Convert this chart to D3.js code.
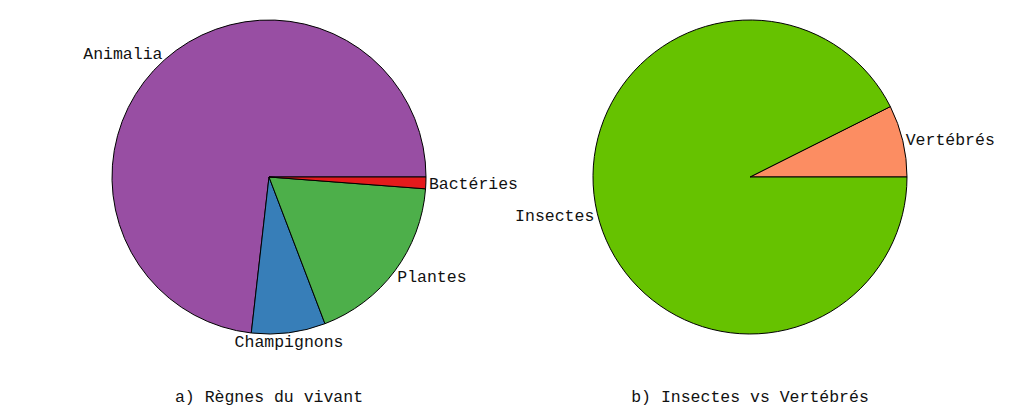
<!DOCTYPE html>
<html>
<head>
<meta charset="utf-8">
<script src="https://cdn.jsdelivr.net/npm/d3@7"></script>
<style>
  body { margin: 0; background: #fff; }
  text { font-family: "Liberation Mono", "DejaVu Sans Mono", monospace; font-size: 16.5px; fill: #111; }
</style>
</head>
<body>
<svg id="chart"></svg>
<script>
// data (shares, in %)
const regnes = ["Animalia", "Champignons", "Plantes", "Bactéries"];
const regnes_valeurs = [73.2, 7.6, 18.0, 1.2];
const regnes_couleurs = ["#984ea3", "#377eb8", "#4daf4a", "#e41a1c"];

const groupes = ["Vertébrés", "Insectes"];
const groupes_valeurs = [7.4, 92.6];
const groupes_couleurs = ["#fc8d62", "#66c200"];

const titres = ["a) Règnes du vivant", "b) Insectes vs Vertébrés"];

const w = 1024, h = 420;
const svg = d3.select('#chart').attr('width', w).attr('height', h);

const R = 157;

// pies go counterclockwise starting at 3 o'clock
const pie = d3.pie().sort(null).value(d => d.v)
  .startAngle(Math.PI / 2).endAngle(Math.PI / 2 - 2 * Math.PI);
const arc = d3.arc().innerRadius(0).outerRadius(R);

const draw_pie = function(cx, cy, names, vals, cols, titre) {
  const data = names.map((n, i) => ({ n: n, v: vals[i], c: cols[i] }));
  const g = svg.append('g').attr('transform', `translate(${cx},${cy})`);

  g.selectAll('path')
    .data(pie(data))
    .join('path')
      .attr('d', arc)
      .attr('fill', d => d.data.c)
      .attr('stroke', '#000')
      .attr('stroke-width', 1);

  // labels just outside the rim, pushed a bit away vertically
  const rl = R + 3;
  g.selectAll('text.lab')
    .data(pie(data))
    .join('text')
      .attr('class', 'lab')
      .each(function(d) {
        const a = (d.startAngle + d.endAngle) / 2;
        const ux = Math.sin(a), uy = -Math.cos(a);
        const anchor = ux > 0.2 ? 'start' : (ux < -0.2 ? 'end' : 'middle');
        d3.select(this)
          .attr('x', ux * rl)
          .attr('y', uy * rl + uy * 6)
          .attr('dy', '0.35em')
          .attr('text-anchor', anchor)
          .text(d.data.n);
      });

  svg.append('text')
    .attr('x', cx)
    .attr('y', 396)
    .attr('dy', '0.35em')
    .attr('text-anchor', 'middle')
    .text(titre);
}

draw_pie(269, 177, regnes, regnes_valeurs, regnes_couleurs, titres[0]);
draw_pie(750, 177, groupes, groupes_valeurs, groupes_couleurs, titres[1]);
</script>
</body>
</html>
